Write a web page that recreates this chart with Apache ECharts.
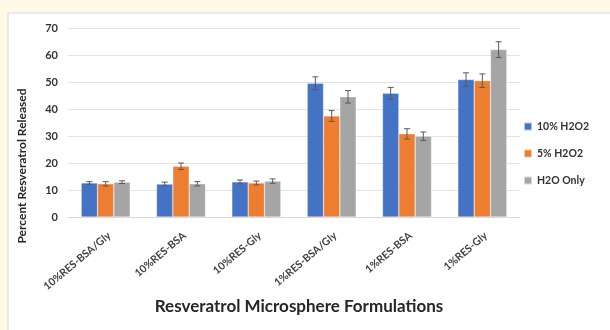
<!DOCTYPE html>
<html>
<head>
<meta charset="utf-8">
<script src="https://cdn.jsdelivr.net/npm/echarts@6/dist/echarts.min.js"></script>
<style>
  html, body { margin: 0; padding: 0; background: #fffae8; }
  #chart { width: 610px; height: 330px; }
</style>
</head>
<body>
<div id="chart"></div>
<script>
// Formulations on the x axis
const formulations = ['10%RES-BSA/Gly', '10%RES-BSA', '10%RES-Gly', '1%RES-BSA/Gly', '1%RES-BSA', '1%RES-Gly'];
const seriesNames = ['10% H2O2', '5% H2O2', 'H2O Only'];

// Mean percent released
const h2o2Ten = [12.6, 12.2, 13.0, 49.5, 45.8, 50.9];
const h2o2Five = [12.3, 18.8, 12.6, 37.4, 30.8, 50.5];
const waterOnly = [12.9, 12.3, 13.3, 44.5, 29.9, 62.0];

// Standard deviation for each mean
const h2o2TenErr = [0.5, 0.7, 0.7, 2.4, 2.2, 2.5];
const h2o2FiveErr = [0.8, 1.2, 0.7, 2.0, 1.9, 2.5];
const waterOnlyErr = [0.5, 0.8, 0.8, 2.3, 1.6, 2.9];

const yTicks = { min: 0, max: 70, interval: 10 };

const xTitle = 'Resveratrol Microsphere Formulations';
const yTitle = 'Percent Resveratrol Released';

const colors = ['#4472C4', '#ED7D31', '#A5A5A5'];
const means = [h2o2Ten, h2o2Five, waterOnly];
const errs = [h2o2TenErr, h2o2FiveErr, waterOnlyErr];
const barCategoryGap = 0.35;

const font = 'Lato, "Open Sans", sans-serif';

const chart = echarts.init(document.getElementById('chart'));

function errorSeries(k) {
  return {
    type: 'custom',
    z: 10,
    silent: true,
    data: means[k].map((v, i) => [i, v, errs[k][i]]),
    renderItem: function (params, api) {
      const idx = api.value(0);
      const mean = api.value(1);
      const sd = api.value(2);
      const catW = api.size([1, 0])[0];
      const barW = catW * (1 - barCategoryGap) / 3;
      const base = api.coord([idx, mean]);
      const x = base[0] + (k - 1) * barW;
      const top = api.coord([idx, mean + sd])[1];
      const bot = api.coord([idx, mean - sd])[1];
      const cap = 3;
      const style = { stroke: '#595959', lineWidth: 1, fill: null };
      return {
        type: 'group',
        children: [
          { type: 'line', shape: { x1: x, y1: top, x2: x, y2: bot }, style: style },
          { type: 'line', shape: { x1: x - cap, y1: top, x2: x + cap, y2: top }, style: style },
          { type: 'line', shape: { x1: x - cap, y1: bot, x2: x + cap, y2: bot }, style: style }
        ]
      };
    }
  };
}

const barSeries = seriesNames.map((name, k) => ({
  name: name,
  type: 'bar',
  data: means[k],
  barGap: '0%',
  barCategoryGap: (barCategoryGap * 100) + '%',
  itemStyle: { color: colors[k], borderColor: 'rgba(255,255,255,0.6)', borderWidth: 0.5 }
}));

chart.setOption({
  backgroundColor: '#fffae8',
  animation: false,
  textStyle: { fontFamily: font },
  graphic: [
    {
      type: 'rect',
      z: -10,
      shape: { x: 8, y: 13, width: 610, height: 330 },
      style: { fill: '#ffffff', stroke: '#e4e4e4', lineWidth: 1.5 }
    },
    {
      type: 'text',
      x: 299,
      y: 307,
      style: {
        text: xTitle, fontFamily: font, fontSize: 17, fontWeight: 'bold',
        fill: '#262626', align: 'center', verticalAlign: 'middle'
      }
    },
    {
      type: 'text',
      x: 22,
      y: 166,
      rotation: Math.PI / 2,
      style: {
        text: yTitle, fontFamily: font, fontSize: 12, fontWeight: 'bold',
        fill: '#262626', align: 'center', verticalAlign: 'middle'
      }
    }
  ],
  grid: { left: 68, right: 90, top: 28, bottom: 113 },
  legend: {
    orient: 'vertical',
    left: 518,
    top: 116,
    itemWidth: 8,
    itemHeight: 8,
    itemGap: 16,
    icon: 'rect',
    data: seriesNames,
    textStyle: { fontFamily: font, fontSize: 10.5, fontWeight: 'bold', color: '#333333' }
  },
  xAxis: {
    type: 'category',
    data: formulations,
    axisLine: { lineStyle: { color: '#d9d9d9' } },
    axisTick: { show: false },
    axisLabel: {
      rotate: 40, fontSize: 10.5, fontWeight: 'bold', color: '#404040',
      margin: 13, interval: 0, verticalAlign: 'top', fontFamily: font
    }
  },
  yAxis: {
    type: 'value',
    min: yTicks.min,
    max: yTicks.max,
    interval: yTicks.interval,
    axisLine: { show: false },
    axisTick: { show: false },
    axisLabel: { fontSize: 11, fontWeight: 'bold', color: '#333333', margin: 10, fontFamily: font },
    splitLine: { lineStyle: { color: '#e3e3e3' } }
  },
  series: barSeries.concat([errorSeries(0), errorSeries(1), errorSeries(2)])
});
</script>
</body>
</html>
